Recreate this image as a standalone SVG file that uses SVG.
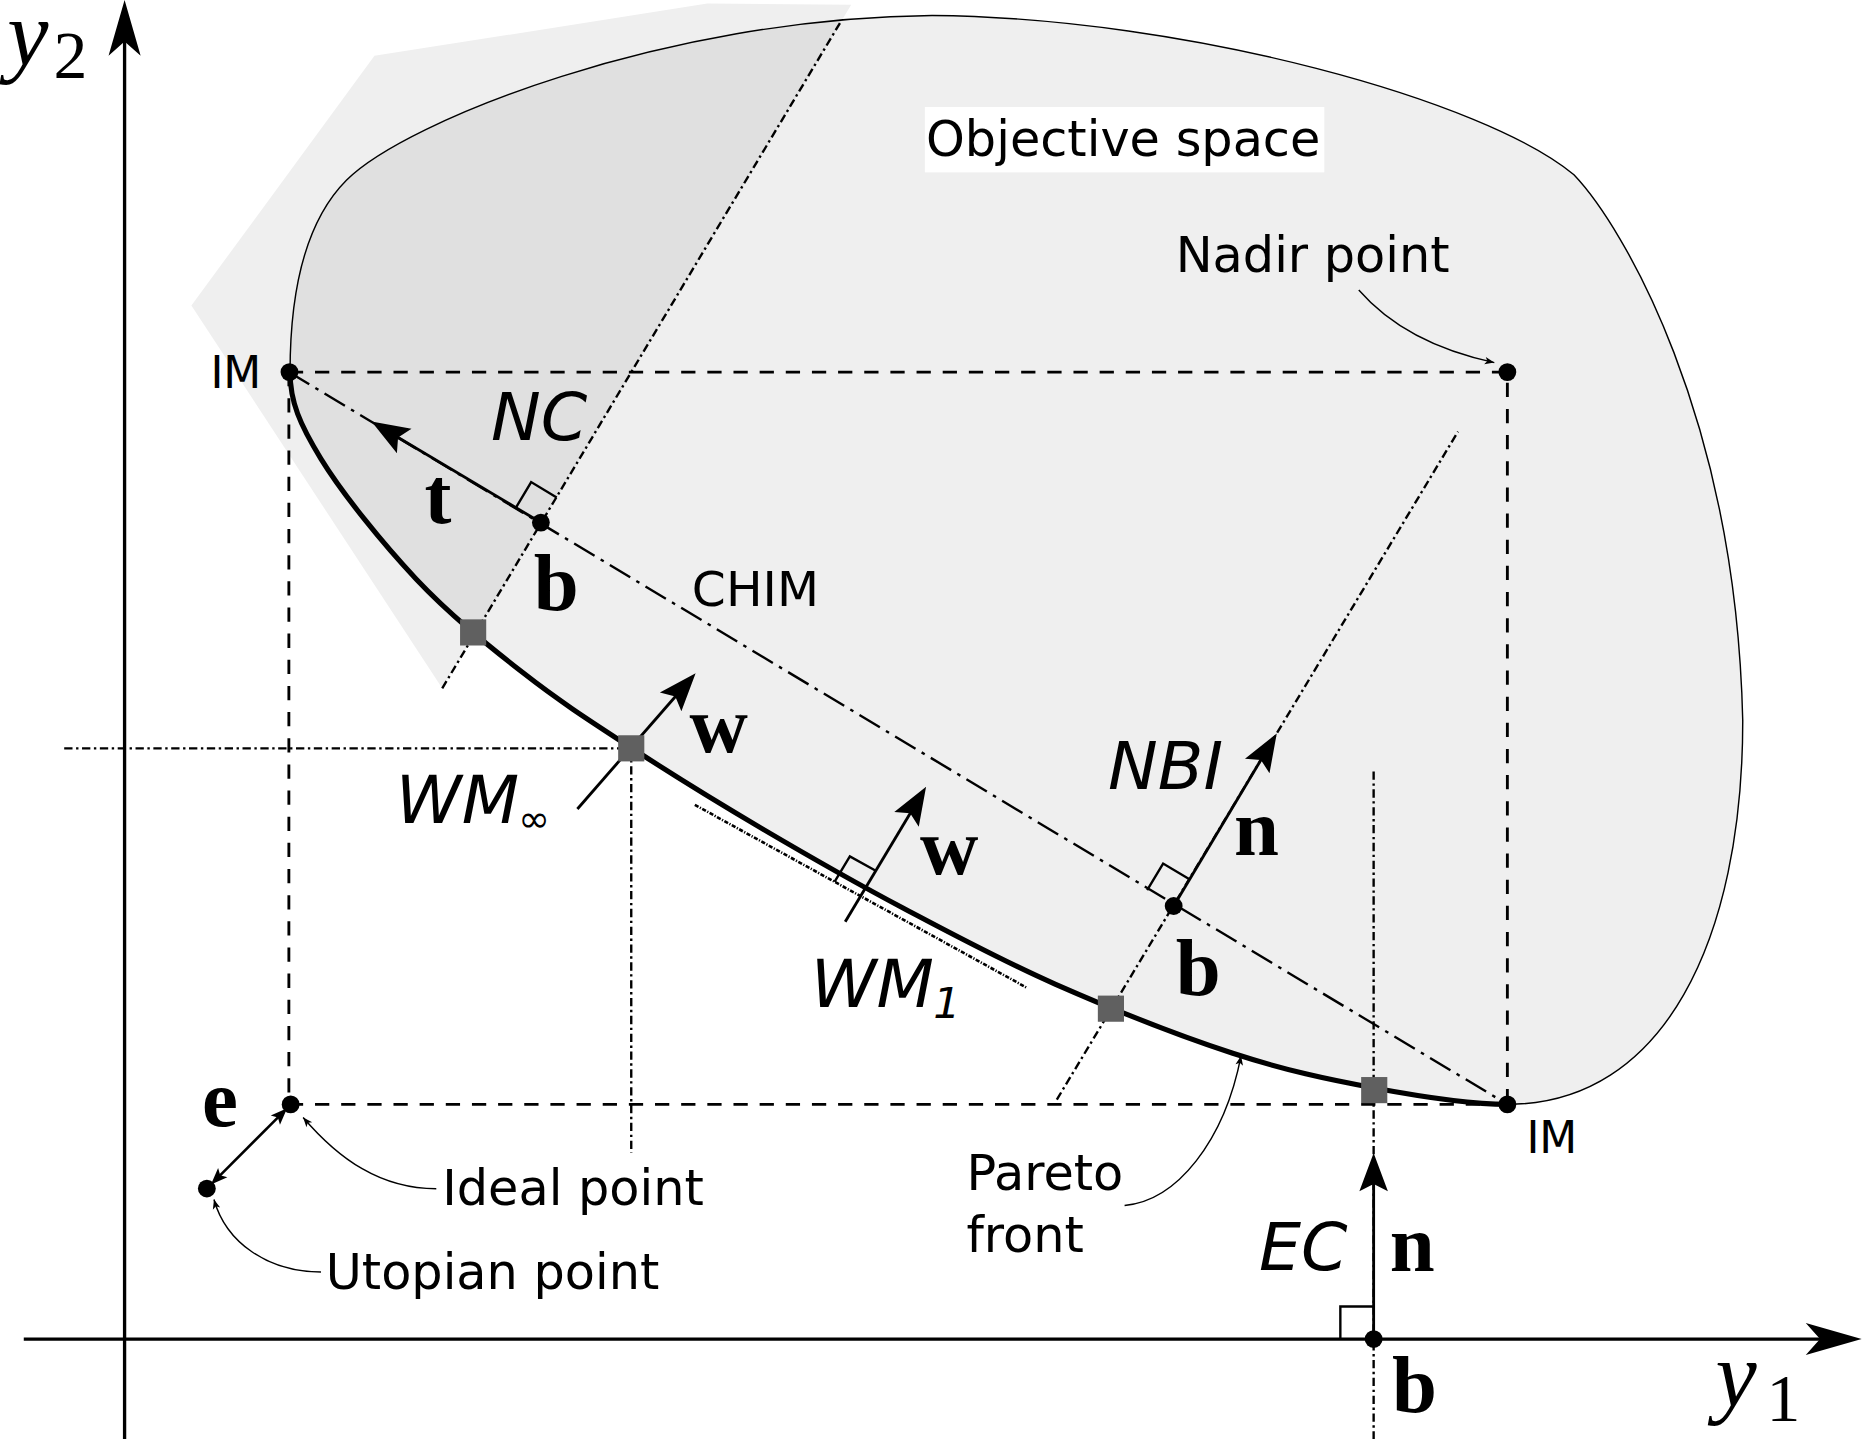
<svg xmlns="http://www.w3.org/2000/svg" width="1864" height="1439" viewBox="0 0 1864 1439">
<defs>
<style>
.sans{font-family:"DejaVu Sans","Liberation Sans",sans-serif;fill:#000}
.ital{font-family:"DejaVu Sans","Liberation Sans",sans-serif;font-style:oblique;fill:#000}
.bold{font-family:"Liberation Serif","DejaVu Serif",serif;font-weight:bold;fill:#000}
.math{font-family:"Liberation Serif","DejaVu Serif",serif;fill:#000}
.dash{fill:none;stroke:#000;stroke-width:2.4;stroke-dasharray:12,10}
.chim{fill:none;stroke:#000;stroke-width:2;stroke-dasharray:20,6,3,6}
.dd{fill:none;stroke:#000;stroke-width:2;stroke-dasharray:7,3,2,3}
.vec{fill:none;stroke:#000;stroke-width:2.4;marker-end:url(#ah)}
.lead{fill:none;stroke:#000;stroke-width:1.2;marker-end:url(#sm)}
.ra{fill:none;stroke:#000;stroke-width:2}
.pt{fill:#000}
.sq{fill:#606060}
</style>
<marker id="ah" markerUnits="userSpaceOnUse" orient="auto" viewBox="-40 -20 60 40" markerWidth="60" markerHeight="40" refX="0" refY="0"><path d="M8,0 L-24,-12 L-18,0 L-24,12 Z" fill="#000"/></marker>
<marker id="axh" markerUnits="userSpaceOnUse" orient="auto" viewBox="-50 -20 70 40" markerWidth="70" markerHeight="40" refX="0" refY="0"><path d="M8,0 L-39,-13.5 L-27,0 L-39,13.5 Z" fill="#000"/></marker>
<marker id="sh" markerUnits="userSpaceOnUse" orient="auto-start-reverse" viewBox="-20 -10 30 20" markerWidth="30" markerHeight="20" refX="0" refY="0"><path d="M4,0 L-10,-5.5 L-7,0 L-10,5.5 Z" fill="#000"/></marker>
<marker id="sm" markerUnits="userSpaceOnUse" orient="auto" viewBox="-15 -8 20 16" markerWidth="20" markerHeight="16" refX="0" refY="0"><path d="M0,0 L-8,-3.2 L-6,0 L-8,3.2 Z" fill="#000"/></marker>
<path id="blobPath" d="M244,313 C244,240 258,185 291.6,151.4 C341.6,101.4 560,15 784,13 C1000,15 1250,85 1324,147 C1365,190 1460,350 1466,606 C1466,790 1400,929 1268,929 C1240,929 1193.5,922.2 1155,915 C1116.5,907.8 1081.5,900.5 1037,886 C992.5,871.5 934.2,848.3 888,828 C841.8,807.7 801.2,785.8 760,764 C718.8,742.2 679.2,719.5 641,697 C602.8,674.5 564.5,650.8 531,629 C497.5,607.2 470.2,589.7 440,566 C409.8,542.3 378.3,517 350,487 C321.7,457 287.8,415 270,386 C252.2,357 244,338 244,313 Z"/>
<clipPath id="blobClip"><use href="#blobPath"/></clipPath>
</defs>
<rect width="1864" height="1439" fill="#fff"/>
<g transform="scale(1.18878)">
<g id="regions">
<polygon id="nc-feasible-outer" points="315,47 595,3 716,4 372,579 161,257" fill="#efefef"/>
<use id="objective-space" href="#blobPath" fill="#efefef"/>
<polygon id="nc-feasible-inner" points="315,47 595,3 716,4 372,579 161,257" fill="#e0e0e0" clip-path="url(#blobClip)"/>
<path id="blob-outline" d="M244,313 C244,240 258,185 291.6,151.4 C341.6,101.4 560,15 784,13 C1000,15 1250,85 1324,147 C1365,190 1460,350 1466,606 C1466,790 1400,929 1268,929" fill="none" stroke="#000" stroke-width="1.2"/>
<rect x="778" y="90" width="336" height="55" fill="#fff"/>
</g>
<g id="axes">
<line x1="20" y1="1126.4" x2="1558" y2="1126.4" stroke="#000" stroke-width="2.8" marker-end="url(#axh)"/>
<line x1="104.8" y1="1212" x2="104.8" y2="8" stroke="#000" stroke-width="2.8" marker-end="url(#axh)"/>
</g>
<g id="connectors">
<path class="dash" d="M243,313 H1268 V929"/>
<path class="dash" d="M243,313 V929 H1268"/>
<line class="chim" x1="243" y1="313" x2="1268" y2="929"/>
<line class="dd" x1="372" y1="579" x2="708" y2="17" stroke-width="1.8"/>
<line class="dd" x1="889" y1="925" x2="1226.5" y2="363"/>
<line class="dd" x1="1155.5" y1="649" x2="1155.5" y2="1212"/>
<line class="dd" x1="54" y1="629.5" x2="531" y2="629.5"/>
<line class="dd" x1="531" y1="629.5" x2="531" y2="970"/>
<line x1="584.5" y1="677" x2="864" y2="831" fill="none" stroke="#000" stroke-width="2.2" stroke-dasharray="3.5,1.3,1,1.3"/>
<path id="pareto-front" d="M244,313 C244,338 252.2,357 270,386 C287.8,415 321.7,457 350,487 C378.3,517 409.8,542.3 440,566 C470.2,589.7 497.5,607.2 531,629 C564.5,650.8 602.8,674.5 641,697 C679.2,719.5 718.8,742.2 760,764 C801.2,785.8 841.8,807.7 888,828 C934.2,848.3 992.5,871.5 1037,886 C1081.5,900.5 1116.5,907.8 1155,915 C1193.5,922.2 1240,929 1268,929" fill="none" stroke="#000" stroke-width="4.3"/>
<line class="vec" x1="455" y1="439.6" x2="319.4" y2="358.7"/>
<line class="vec" x1="485.7" y1="680.5" x2="579.9" y2="572.4"/>
<line class="vec" x1="711" y1="775.3" x2="774.9" y2="668.7"/>
<line class="vec" x1="987.3" y1="762.1" x2="1069.9" y2="623.8"/>
<line class="vec" x1="1155.5" y1="1126" x2="1155.5" y2="978"/>
<line x1="180.3" y1="993.5" x2="238.7" y2="935.1" stroke="#000" stroke-width="2.2" marker-start="url(#sh)" marker-end="url(#sh)"/>
<polyline class="ra" points="434,427 446.8,405.5 468.3,418.5"/>
<polyline class="ra" points="965,748.7 978.4,726.4 1000.6,739.7"/>
<polyline class="ra" points="702,741.8 714.9,720.4 736.7,732.5"/>
<polyline class="ra" points="1127.5,1126 1127.5,1099 1155.5,1099"/>
<path class="lead" d="M1143,244 C1170,275 1210,295 1257,305"/>
<path class="lead" d="M367,1000 C320,1000 285,975 255,940"/>
<path class="lead" d="M270,1070 C225,1070 190,1045 180,1009"/>
<path class="lead" d="M946,1014 C990,1010 1030,960 1044,888"/>
</g>
<g id="squares">
<rect class="sq" x="387" y="521" width="22" height="22"/>
<rect class="sq" x="520" y="618.5" width="22" height="22"/>
<rect class="sq" x="923.5" y="837.5" width="22" height="22"/>
<rect class="sq" x="1145" y="906" width="22" height="22"/>
</g>
<g id="points">
<circle id="im-top" class="pt" cx="243.5" cy="313" r="7.5"/>
<circle id="nadir" class="pt" cx="1268" cy="313" r="7.5"/>
<circle id="im-right" class="pt" cx="1268" cy="929" r="7.5"/>
<circle id="ideal" class="pt" cx="244.5" cy="929" r="7.5"/>
<circle id="utopian" class="pt" cx="174" cy="999.8" r="7.5"/>
<circle id="b-nc" class="pt" cx="455" cy="439.6" r="7.5"/>
<circle id="b-nbi" class="pt" cx="987.3" cy="762.1" r="7.5"/>
<circle id="b-ec" class="pt" cx="1155.5" cy="1126.4" r="7.5"/>
</g>
<g id="labels">
<text class="math" x="6" y="55" font-size="78" font-style="italic">y</text>
<text class="math" x="45" y="65.6" font-size="57">2</text>
<text class="math" x="1443" y="1183" font-size="78" font-style="italic">y</text>
<text class="math" x="1486" y="1195" font-size="57">1</text>
<text class="sans" x="779" y="131" font-size="41.5">Objective space</text>
<text class="sans" x="989" y="229" font-size="41.5">Nadir point</text>
<text class="sans" x="177" y="326" font-size="37">IM</text>
<text class="sans" x="1284" y="970" font-size="37">IM</text>
<text class="sans" x="582" y="510" font-size="41">CHIM</text>
<text class="sans" x="372" y="1014" font-size="41.5">Ideal point</text>
<text class="sans" x="274" y="1084" font-size="41.5">Utopian point</text>
<text class="sans" x="813" y="1001" font-size="41.5">Pareto</text>
<text class="sans" x="813" y="1053" font-size="41.5">front</text>
<text class="ital" x="413" y="370" font-size="56">NC</text>
<text class="ital" x="932" y="664" font-size="56">NBI</text>
<text class="ital" x="333" y="692" font-size="56">WM</text>
<text class="ital" x="436" y="700" font-size="32">∞</text>
<text class="ital" x="682" y="847" font-size="56">WM</text>
<text class="ital" x="785" y="856" font-size="36">1</text>
<text class="ital" x="1059" y="1068" font-size="56">EC</text>
<text class="bold" x="357" y="440" font-size="68">t</text>
<text class="bold" x="449" y="513" font-size="68">b</text>
<text class="bold" x="580" y="633" font-size="68">w</text>
<text class="bold" x="774" y="735" font-size="68">w</text>
<text class="bold" x="1038" y="719" font-size="68">n</text>
<text class="bold" x="989" y="837" font-size="68">b</text>
<text class="bold" x="1169" y="1069" font-size="68">n</text>
<text class="bold" x="1171" y="1188" font-size="68">b</text>
<text class="bold" x="170" y="947" font-size="68">e</text>
</g>
</g>
</svg>
